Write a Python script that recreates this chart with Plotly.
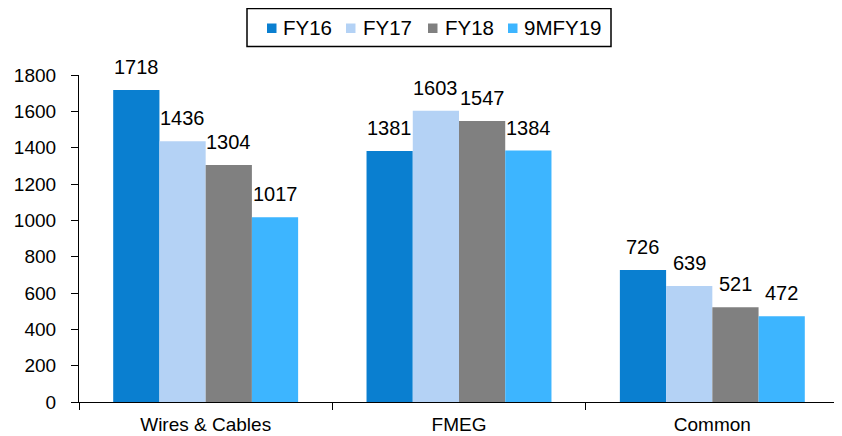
import plotly.graph_objects as go

categories = ["Wires & Cables", "FMEG", "Common"]
series_names = ["FY16", "FY17", "FY18", "9MFY19"]
fy16 = [1718, 1381, 726]
fy17 = [1436, 1603, 639]
fy18 = [1304, 1547, 521]
m9fy19 = [1017, 1384, 472]
y_ticks = [0, 200, 400, 600, 800, 1000, 1200, 1400, 1600, 1800]

colors = ["#0a7fd0", "#b4d2f5", "#808080", "#3db5ff"]
FONT = "Liberation Sans, Arial, sans-serif"
BARGAP = 0.27

# page is offset by the default 8px body margin -> compensate
W, H = 834, 428
ML, MT, MR, MB = 71, 67, 3, 34
PLOT_W = W - ML - MR
PLOT_H = H - MT - MB
OFF = 8  # body margin in page pixels


def pxx(page_x):
    return (page_x - OFF - ML) / PLOT_W


def pxy(page_y):
    return (H - MB - (page_y - OFF)) / PLOT_H


all_series = [fy16, fy17, fy18, m9fy19]
n = len(all_series)
bar_w = (1 - BARGAP) / n

fig = go.Figure()
annotations = []
for k, (name, vals, c) in enumerate(zip(series_names, all_series, colors)):
    fig.add_trace(go.Bar(
        name=name, x=categories, y=vals, marker_color=c,
        marker_line=dict(width=0), showlegend=False,
    ))
    for i, v in enumerate(vals):
        annotations.append(dict(
            x=i - (1 - BARGAP) / 2 + bar_w * (k + 0.5), y=v, xref="x", yref="y",
            text=str(v), showarrow=False, yanchor="bottom", xanchor="center",
            yshift=10, font=dict(family=FONT, size=20, color="black"),
        ))

# legend drawn as layout decoration
LEG_BOX = (247, 8.5, 611, 46.5)
LEG_MARK_X = [267, 346, 428, 508]
LEG_TEXT_X = [281, 361, 443, 522]
LEG_MARK_Y = (23.5, 33)
LEG_TEXT_Y = 27.5

shapes = [dict(type="rect", xref="paper", yref="paper",
               x0=pxx(LEG_BOX[0]), x1=pxx(LEG_BOX[2]),
               y0=pxy(LEG_BOX[3]), y1=pxy(LEG_BOX[1]),
               line=dict(color="black", width=1.5), fillcolor="rgba(0,0,0,0)")]
for k, name in enumerate(series_names):
    shapes.append(dict(type="rect", xref="paper", yref="paper",
                       x0=pxx(LEG_MARK_X[k]), x1=pxx(LEG_MARK_X[k] + 9.5),
                       y0=pxy(LEG_MARK_Y[1]), y1=pxy(LEG_MARK_Y[0]),
                       line=dict(width=0), fillcolor=colors[k]))
    annotations.append(dict(x=pxx(LEG_TEXT_X[k]), y=pxy(LEG_TEXT_Y), xref="paper", yref="paper",
                            text=name, showarrow=False, xanchor="left", yanchor="middle",
                            font=dict(family=FONT, size=20.5, color="black")))

fig.update_layout(
    width=W, height=H,
    margin=dict(l=ML, r=MR, t=MT, b=MB, autoexpand=False),
    paper_bgcolor="white", plot_bgcolor="white",
    barmode="group", bargap=BARGAP, bargroupgap=0,
    font=dict(family=FONT, size=19, color="black"),
    showlegend=False,
    annotations=annotations, shapes=shapes,
)
fig.update_xaxes(showline=True, linecolor="black", linewidth=1.2, ticks="outside",
                 tickson="boundaries", ticklen=7, tickcolor="black", tickwidth=1.2,
                 tickfont=dict(family=FONT, size=19), showgrid=False,
                 ticklabelstandoff=5)
fig.update_yaxes(range=[0, 1800], tickvals=y_ticks, showline=True, linecolor="black",
                 linewidth=1.2, ticks="outside", ticklen=7, tickcolor="black", tickwidth=1.2,
                 tickfont=dict(family=FONT, size=19), showgrid=False, zeroline=False,
                 ticklabelstandoff=11)
fig.write_html("out.html")
